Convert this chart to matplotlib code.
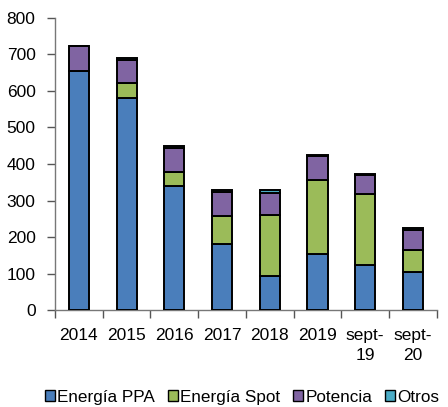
import numpy as np
import matplotlib.pyplot as plt

plt.rcParams['font.family'] = ['Liberation Sans', 'DejaVu Sans']

categories = ["2014", "2015", "2016", "2017", "2018", "2019", "sept-\n19", "sept-\n20"]
ppa = [654, 581, 339, 182, 94, 153, 122, 103]
spot = [0, 40, 38, 76, 166, 204, 196, 61]
potencia = [69, 65, 67, 66, 60, 64, 51, 56]
otros = [0, 4, 4, 5, 9, 4, 4, 4]

series = [("Energía PPA", ppa, "#4A7EBB"),
          ("Energía Spot", spot, "#9BBB59"),
          ("Potencia", potencia, "#8064A2"),
          ("Otros", otros, "#4BACC6")]

fig = plt.figure(figsize=(4.48, 4.07), dpi=100)
ax = fig.add_axes([0.1228, 0.2383, 0.8522, 0.7175])

x = np.arange(len(categories))
bottom = np.zeros(len(categories))
handles = []
for name, vals, color in series:
    b = ax.bar(x, vals, width=0.42, bottom=bottom, color=color,
               edgecolor="black", linewidth=1.4, label=name, zorder=3)
    handles.append(b)
    bottom += np.array(vals)

ax.set_xlim(-0.5, len(categories) - 0.5)
ax.set_ylim(0, 800)
ax.set_yticks(range(0, 801, 100))

ax.set_xticks(x)
ax.set_xticklabels(categories, fontsize=12.5, linespacing=1.4)
ax.set_xticks(np.arange(-0.5, len(categories), 1), minor=True)
ax.tick_params(axis="x", which="major", length=0, pad=13)
ax.tick_params(axis="x", which="minor", length=6, width=1, color="#555555")
ax.tick_params(axis="y", length=6, width=1, color="#555555", labelsize=12.5, pad=8)

for s in ["top", "right"]:
    ax.spines[s].set_visible(False)
for s in ["left", "bottom"]:
    ax.spines[s].set_color("#777777")
    ax.spines[s].set_linewidth(1)

leg = fig.legend(handles=handles, loc="center", bbox_to_anchor=(0.54, 0.024), ncol=4,
                 frameon=False, fontsize=12.3, handlelength=0.6, handleheight=0.6,
                 handletextpad=0.12, columnspacing=0.75, borderaxespad=0)
for h in leg.legend_handles:
    h.set_linewidth(1.0)

fig.savefig("out.png", dpi=100)
